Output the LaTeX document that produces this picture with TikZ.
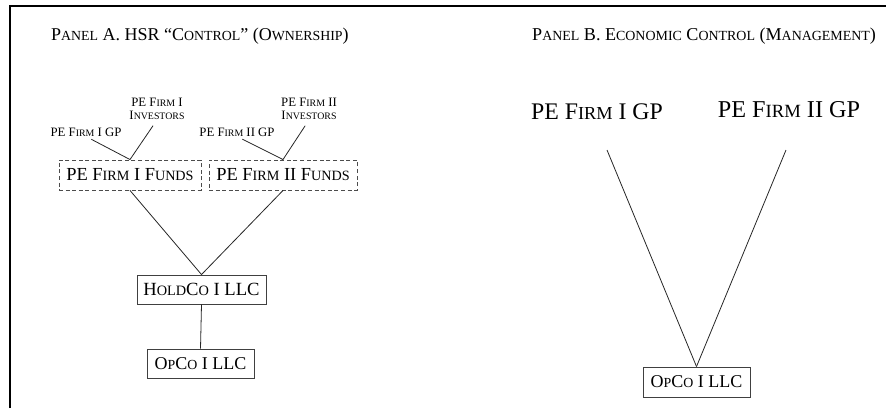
\documentclass[tikz,border=0pt]{standalone}
\usepackage{fontspec}
\setmainfont{Liberation Serif}
\makeatletter
\newcommand\smc[1]{{\fontsize{\fpeval{0.77*\f@size}}{0}\selectfont #1}}
\newcommand\fsz[1]{\fontsize{#1}{#1}\selectfont}
\makeatother
\tikzset{
  conn/.style={line width=0.8pt, draw=black!85},
  solidbox/.style={draw=black!75, line width=0.9pt, minimum height=29pt, inner sep=0pt},
  dashbox/.style={draw=black!70, line width=0.9pt, dash pattern=on 4pt off 2.6pt, minimum height=30pt, inner sep=0pt},
  smalllbl/.style={font=\fsz{12.8}, align=center, inner sep=0pt},
}
\begin{document}
\begin{tikzpicture}[x=1pt,y=-1pt]
\useasboundingbox (0,0) rectangle (886,408);
\draw[line width=2pt] (10,408) -- (10,6) -- (886,6);

% Panel A
\node[anchor=base west, font=\fsz{18}, inner sep=0pt] (titleA) at (51,40)
  {P\smc{ANEL} A. HSR “C\smc{ONTROL}” (O\smc{WNERSHIP})};
\node[smalllbl] (gp1) at (86,132) {PE F\smc{IRM} I GP};
\node[smalllbl] (inv1) at (157,109) {PE F\smc{IRM} I\\I\smc{NVESTORS}};
\node[smalllbl] (gp2) at (237,132) {PE F\smc{IRM} II GP};
\node[smalllbl] (inv2) at (309,109) {PE F\smc{IRM} II\\I\smc{NVESTORS}};
\node[dashbox, minimum width=142pt, font=\fsz{18.4}] (funds1) at (130,175) {PE F\smc{IRM} I F\smc{UNDS}};
\node[dashbox, minimum width=148pt, font=\fsz{18.4}] (funds2) at (283,175) {PE F\smc{IRM} II F\smc{UNDS}};
\node[solidbox, minimum width=129pt, font=\fsz{18.6}] (holdco) at (201.5,289.5) {H\smc{OLD}C\smc{O} I LLC};
\node[solidbox, minimum width=107pt, font=\fsz{18}] (opco1) at (200.5,363.5) {O\smc{P}C\smc{O} I LLC};

\draw[conn, shorten <=6pt] (gp1.south) -- (funds1.north);
\draw[conn, shorten <=7pt] (inv1.south) -- (funds1.north);
\draw[conn, shorten <=6pt] (gp2.south) -- (funds2.north);
\draw[conn, shorten <=7pt] (inv2.south) -- (funds2.north);
\draw[conn] (funds1.south) -- (holdco.north);
\draw[conn] (funds2.south) -- (holdco.north);
\draw[conn] (holdco.south) -- (opco1.north);

% Panel B
\node[anchor=base west, font=\fsz{18.1}, inner sep=0pt] (titleB) at (532,40)
  {P\smc{ANEL} B. E\smc{CONOMIC} C\smc{ONTROL} (M\smc{ANAGEMENT})};
\node[font=\fsz{23.8}, inner sep=0pt] (pegp1) at (597,112) {PE F\smc{IRM} I GP};
\node[font=\fsz{24.2}, inner sep=0pt] (pegp2) at (789,110) {PE F\smc{IRM} II GP};
\node[solidbox, minimum width=107pt, minimum height=30pt, font=\fsz{18}] (opco2) at (696.5,382) {O\smc{P}C\smc{O} I LLC};
\coordinate (b1top) at (607,150);
\coordinate (b2top) at (786,150);
\draw[conn] (b1top) -- (opco2.north);
\draw[conn] (b2top) -- (opco2.north);
\end{tikzpicture}
\end{document}
